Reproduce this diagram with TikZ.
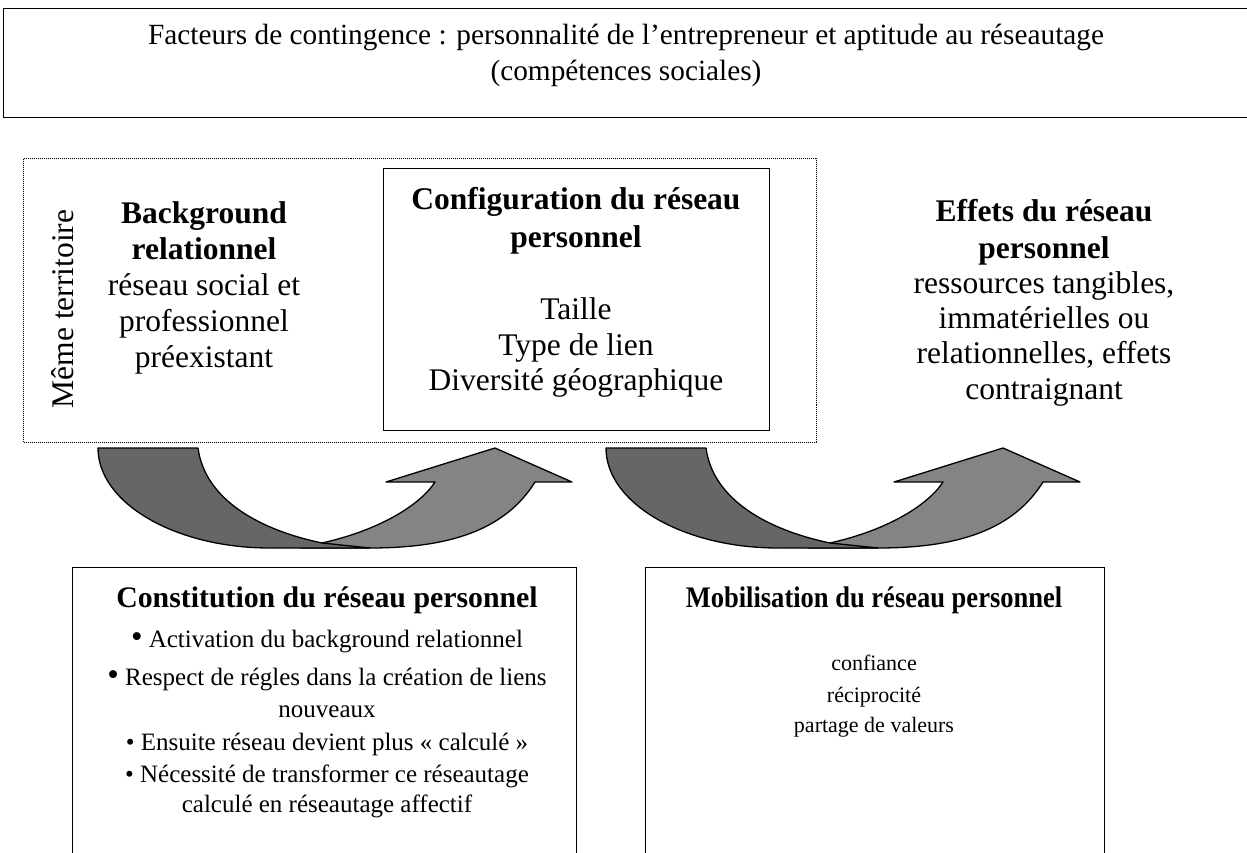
\documentclass[tikz,border=0pt]{standalone}
\usepackage{fontspec}
\setmainfont{Liberation Serif}
\newfontfamily\condfont[FakeStretch=0.89]{Liberation Serif}
\definecolor{arrdark}{RGB}{102,102,102}
\definecolor{arrlight}{RGB}{132,132,132}
\begin{document}
\begin{tikzpicture}[x=1pt,y=-1pt,
  box/.style={draw, line width=1.4pt, inner sep=0pt, anchor=north west},
  dotbox/.style={draw, line width=1pt, densely dotted, inner sep=0pt, anchor=north west},
  txt/.style={anchor=base, inner sep=0pt, font=\fontsize{31.5}{36}\selectfont},
  btxt/.style={anchor=base, inner sep=0pt, font=\fontsize{31.5}{36}\selectfont\bfseries},
  toptxt/.style={anchor=base, inner sep=0pt, font=\fontsize{29.3}{34}\selectfont},
  ctitle/.style={anchor=base, inner sep=0pt, font=\fontsize{29.8}{34}\selectfont\bfseries},
  mtitle/.style={anchor=base, inner sep=0pt, font=\fontsize{29.8}{34}\condfont\bfseries},
  bultxt/.style={anchor=base, inner sep=0pt, font=\fontsize{25}{30}\selectfont},
  mtxt/.style={anchor=base, inner sep=0pt, font=\fontsize{22}{26}\selectfont},
  darkpart/.style={fill=arrdark, draw=black, line width=1.3pt, line join=round},
  lightpart/.style={fill=arrlight, draw=black, line width=1.3pt, line join=round}
]
\useasboundingbox (0,0) rectangle (1247,853);

% top box
\node[box, minimum width=1250pt, minimum height=109pt] (top) at (3,8) {};
\node[toptxt] (top1) at (626,45) {Facteurs de contingence : personnalité de l’entrepreneur et aptitude au réseautage};
\node[toptxt] (top2) at (626,81) {(compétences sociales)};

% dotted territory box
\node[dotbox, minimum width=793pt, minimum height=284pt] (terrbox) at (23,158) {};
\node[txt, rotate=90] (terr) at (73,309) {Même territoire};

% background relationnel
\node[btxt] (bg1) at (204,223) {Background};
\node[btxt] (bg2) at (204,259) {relationnel};
\node[txt] (bg3) at (204,295) {réseau social et};
\node[txt] (bg4) at (204,331) {professionnel};
\node[txt] (bg5) at (204,367) {préexistant};

% configuration box
\node[box, fill=white, minimum width=386pt, minimum height=262pt] (config) at (383,168) {};
\node[btxt] (cf1) at (576,210) {Configuration du réseau};
\node[btxt] (cf2) at (576,247) {personnel};
\node[txt] (cf3) at (576,319) {Taille};
\node[txt] (cf4) at (576,355) {Type de lien};
\node[txt] (cf5) at (576,390) {Diversité géographique};

% effets
\node[btxt] (ef1) at (1044,222) {Effets du réseau};
\node[btxt] (ef2) at (1044,258) {personnel};
\node[txt] (ef3) at (1044,293) {ressources tangibles,};
\node[txt] (ef4) at (1044,328) {immatérielles ou};
\node[txt] (ef5) at (1044,363) {relationnelles, effets};
\node[txt] (ef6) at (1044,399) {contraignant};

% curved arrows
\foreach \s in {0,508}{
  \begin{scope}[xshift=\s pt]
    \filldraw[lightpart] (322,543) .. controls (380,530) and (420,505) .. (435,482)
      -- (386,482) -- (495,448) -- (572,482) -- (535,482)
      .. controls (505,530) and (450,548) .. (370,548) -- (300,548) -- cycle;
    \filldraw[darkpart] (98,448) -- (198,448) .. controls (205,500) and (260,530) .. (322,543)
      -- (370,548) -- (270,548) .. controls (175,548) and (98,503) .. (98,448) -- cycle;
  \end{scope}
}

% bottom left box
\node[box, minimum width=504pt, minimum height=310pt] (constit) at (72,567) {};
\node[ctitle] (ct0) at (327,607) {Constitution du réseau personnel};
\node[bultxt] (ct1) at (327,647) {{\fontsize{33}{30}\selectfont •} Activation du background relationnel};
\node[bultxt] (ct2) at (327,685) {{\fontsize{33}{30}\selectfont •} Respect de régles dans la création de liens};
\node[bultxt] (ct3) at (327,717) {nouveaux};
\node[bultxt] (ct4) at (327,750) {• Ensuite réseau devient plus « calculé »};
\node[bultxt] (ct5) at (327,782) {• Nécessité de transformer ce réseautage};
\node[bultxt] (ct6) at (327,812) {calculé en réseautage affectif};

% bottom right box
\node[box, minimum width=459pt, minimum height=310pt] (mobil) at (645,567) {};
\node[mtitle] (mb0) at (874,607) {Mobilisation du réseau personnel};
\node[mtxt] (mb1) at (874,670) {confiance};
\node[mtxt] (mb2) at (874,702) {réciprocité};
\node[mtxt] (mb3) at (874,732) {partage de valeurs};
\end{tikzpicture}
\end{document}
